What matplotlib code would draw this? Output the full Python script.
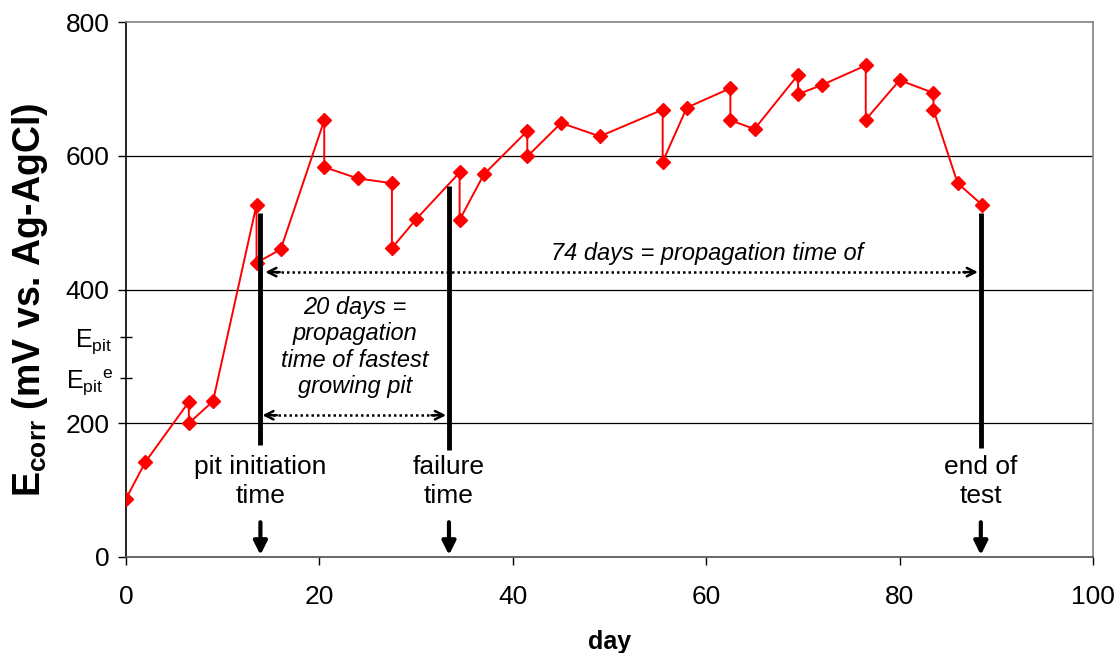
import matplotlib.pyplot as plt

plt.rcParams['font.family'] = ['Liberation Sans', 'DejaVu Sans']
plt.rcParams['mathtext.fontset'] = 'custom'
plt.rcParams['mathtext.rm'] = 'Liberation Sans'
plt.rcParams['mathtext.it'] = 'Liberation Sans:italic'
plt.rcParams['mathtext.bf'] = 'Liberation Sans:bold'

# corrosion potential log
day = [0, 2, 6.5, 6.5, 9, 13.5, 13.5, 16, 20.5, 20.5, 24, 27.5, 27.5, 30,
       34.5, 34.5, 37, 41.5, 41.5, 45, 49, 55.5, 55.5, 58, 62.5, 62.5, 65,
       69.5, 69.5, 72, 76.5, 76.5, 80, 83.5, 83.5, 86, 88.5]
ecorr = [87, 142, 232, 200, 233, 527, 440, 460, 653, 583, 566, 559, 462, 505,
         575, 504, 572, 637, 599, 649, 629, 669, 591, 672, 701, 653, 640,
         721, 692, 706, 735, 654, 713, 694, 669, 559, 527]

# event markers: day, bar top, bar bottom, label
event_day = [13.9, 33.4, 88.4]
event_top = [515, 555, 515]
event_bottom = [167, 160, 163]
event_label = ['pit initiation\ntime', 'failure\ntime', 'end of\ntest']

# pitting potentials on the y axis
epit_val = [329, 268]
epit_lab = [r'$\mathregular{E_{pit}}$', r'$\mathregular{{E_{pit}}^{e}}$']

fig = plt.figure(figsize=(11.17, 6.53), dpi=100)
ax = fig.add_axes([126 / 1117, 1 - 557 / 653, (1093 - 126) / 1117, (557 - 22) / 653])

ax.set_xlim(0, 100)
ax.set_ylim(0, 800)
ax.set_xticks([0, 20, 40, 60, 80, 100])
ax.set_yticks([0, 200, 400, 600, 800])
for y in [200, 400, 600]:
    ax.axhline(y, color='black', lw=0.9, zorder=0)

ax.spines['top'].set_color('0.5')
ax.spines['right'].set_color('0.5')
ax.spines['bottom'].set_color('0.3')
ax.spines['left'].set_color('black')
for s in ax.spines.values():
    s.set_linewidth(1.2)

ax.tick_params(axis='both', which='major', direction='out', length=6,
               width=1, labelsize=19)
ax.tick_params(axis='x', which='major', pad=14)
ax.tick_params(axis='y', which='major', pad=6)
ax.set_yticks(epit_val, minor=True)
ax.set_yticklabels(epit_lab, minor=True)
ax.tick_params(axis='y', which='minor', direction='inout', length=9,
               width=1, labelsize=18, pad=5)

ax.plot(day, ecorr, color='red', lw=1.4, marker='D', markersize=7,
        markeredgecolor='red', zorder=3)

for d, top, bot, lab in zip(event_day, event_top, event_bottom, event_label):
    ax.plot([d, d], [bot, top], color='black', lw=3.5, solid_capstyle='butt', zorder=4)
    ax.text(d, 113, lab, ha='center', va='center', fontsize=19, linespacing=1.25)
    ax.annotate('', xy=(d, 3), xytext=(d, 52),
                arrowprops=dict(arrowstyle='-|>,head_width=0.4,head_length=0.8',
                                color='black', lw=3, shrinkA=0, shrinkB=0))

# dotted spans between events
spans = [(14.4, 88.1, 426), (14.1, 33.1, 212)]
for x0, x1, y in spans:
    ax.plot([x0 + 0.5, x1 - 0.5], [y, y], color='black', lw=1.8,
            linestyle=(0, (1, 1.2)), zorder=4)
    for a, b in [(x0 + 1.5, x0), (x1 - 1.5, x1)]:
        ax.annotate('', xy=(b, y), xytext=(a, y),
                    arrowprops=dict(arrowstyle='->,head_width=0.3,head_length=0.6',
                                    color='black', lw=1.8, shrinkA=0, shrinkB=0))

ax.text(60.1, 454, '74 days = propagation time of', ha='center', va='center',
        fontsize=17, style='italic')
ax.text(23.7, 314, '20 days =\npropagation\ntime of fastest\ngrowing pit',
        ha='center', va='center', fontsize=17, style='italic', linespacing=1.2)

ax.set_xlabel('day', fontsize=18, fontweight='bold', labelpad=15)
ax.set_ylabel(r'$\mathbf{E}_{\mathbf{corr}}$ (mV vs. Ag-AgCl)', fontsize=27,
              fontweight='bold')
ax.yaxis.set_label_coords(-0.079, 0.48)

fig.savefig('out.png', dpi=100)
